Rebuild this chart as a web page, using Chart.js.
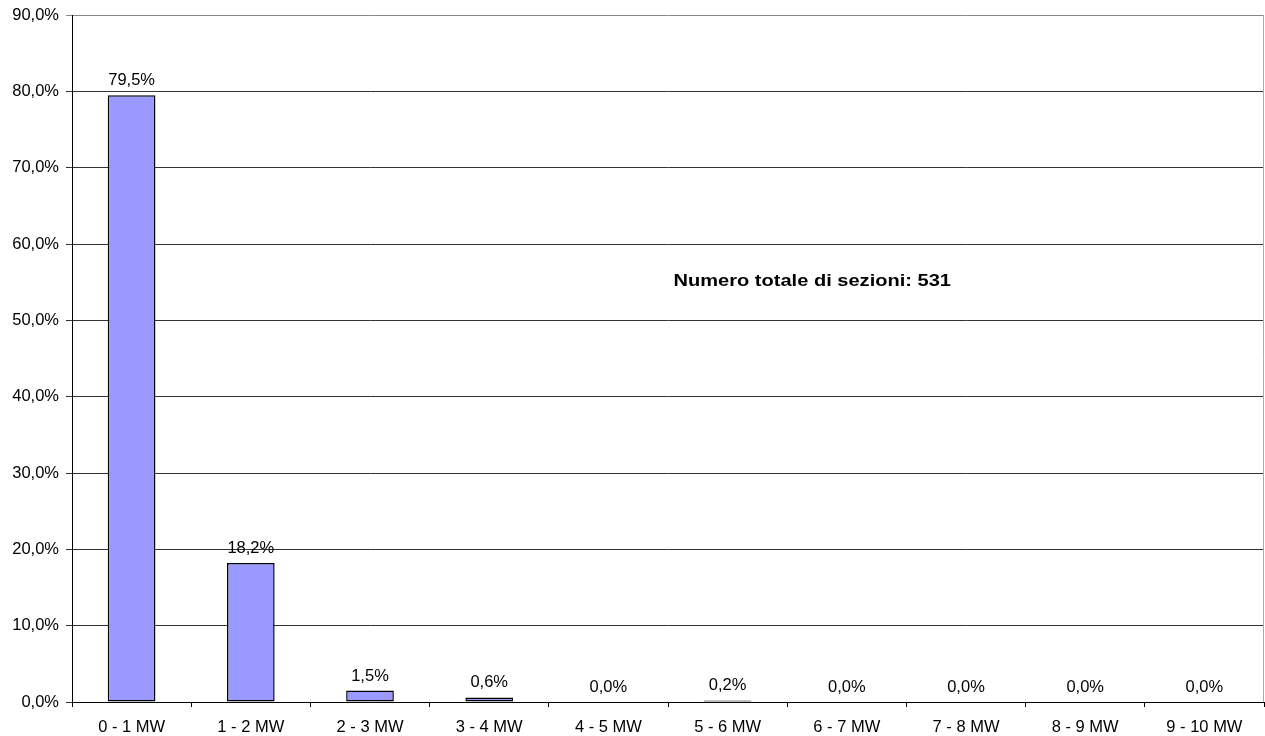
<!DOCTYPE html>
<html>
<head>
<meta charset="utf-8">
<style>
  html, body { margin: 0; padding: 0; background: #fff; }
  #wrap { width: 1265px; height: 736px; }
</style>
<script src="https://cdn.jsdelivr.net/npm/chart.js@4/dist/chart.umd.min.js"></script>
</head>
<body>
<div id="wrap"><canvas id="c" width="1265" height="736"></canvas></div>
<script>
// Distribution of sections by power class (share of total, %)
const categories = ['0 - 1 MW', '1 - 2 MW', '2 - 3 MW', '3 - 4 MW', '4 - 5 MW',
                    '5 - 6 MW', '6 - 7 MW', '7 - 8 MW', '8 - 9 MW', '9 - 10 MW'];
const shares = [79.5, 18.2, 1.5, 0.6, 0.0, 0.2, 0.0, 0.0, 0.0, 0.0];
const yTicks = [0, 10, 20, 30, 40, 50, 60, 70, 80, 90];
const noteText = 'Numero totale di sezioni: 531';

const FONT = 'Liberation Sans, Arial, sans-serif';
const fmt = v => v.toFixed(1).replace('.', ',') + '%';

// Value labels above each bar
const valueLabels = {
  id: 'valueLabels',
  afterDatasetsDraw(chart) {
    const ctx = chart.ctx;
    const meta = chart.getDatasetMeta(0);
    ctx.save();
    ctx.font = '16.5px ' + FONT;
    ctx.fillStyle = '#000';
    ctx.textAlign = 'center';
    ctx.textBaseline = 'alphabetic';
    meta.data.forEach((bar, i) => {
      ctx.fillText(fmt(shares[i]), bar.x, bar.y - 10);
    });
    ctx.restore();
  }
};

// Total count note inside the plot area, plus the right frame edge
const notePlugin = {
  id: 'notePlugin',
  afterDraw(chart) {
    const ctx = chart.ctx;
    const a = chart.chartArea;
    const x = chart.scales.x;
    const y = chart.scales.y;
    ctx.save();
    ctx.strokeStyle = '#aaa';
    ctx.lineWidth = 1;
    ctx.beginPath();
    ctx.moveTo(Math.round(a.right) - 0.5, a.top);
    ctx.lineTo(Math.round(a.right) - 0.5, a.bottom);
    ctx.stroke();
    const x5 = x.getPixelForValue(5), x6 = x.getPixelForValue(6);
    const cx = x5 + 0.71 * (x6 - x5);
    const cy = y.getPixelForValue(54.5);
    ctx.translate(cx, cy);
    ctx.scale(1.18, 1);
    ctx.font = 'bold 17px ' + FONT;
    ctx.fillStyle = '#000';
    ctx.textAlign = 'center';
    ctx.textBaseline = 'alphabetic';
    ctx.fillText(noteText, 0, 0);
    ctx.restore();
  }
};

new Chart(document.getElementById('c'), {
  type: 'bar',
  data: {
    labels: categories,
    datasets: [{
      data: shares,
      backgroundColor: '#9999ff',
      borderColor: '#000',
      borderWidth: 1.5,
      borderSkipped: false,
      categoryPercentage: 0.4,
      barPercentage: 1.0
    }]
  },
  options: {
    responsive: false,
    animation: false,
    devicePixelRatio: 1,
    layout: { padding: { top: 15, right: 1, left: 0, bottom: 0 } },
    plugins: {
      legend: { display: false },
      tooltip: { enabled: false }
    },
    scales: {
      x: {
        offset: true,
        grid: {
          display: true,
          offset: true,
          drawOnChartArea: false,
          drawTicks: true,
          tickLength: 5,
          color: '#000'
        },
        border: { display: true, color: '#000', width: 1 },
        ticks: {
          color: '#000',
          font: { family: FONT, size: 16.5 },
          padding: 11,
          maxRotation: 0,
          autoSkip: false
        },
        afterFit(scale) {
          scale.height = 34;
          scale.paddingLeft = 0;
          scale.paddingRight = 0;
        }
      },
      y: {
        min: 0,
        max: 90,
        afterBuildTicks(scale) { scale.ticks = yTicks.map(v => ({ value: v })); },
        grid: {
          color: ctx => (ctx.tick && ctx.tick.value === 90) ? '#888' : '#333',
          lineWidth: 1,
          drawTicks: true,
          tickLength: 6
        },
        border: { display: true, color: '#000', width: 1 },
        ticks: {
          color: '#000',
          font: { family: FONT, size: 16.5 },
          padding: 7,
          callback: v => fmt(v)
        },
        afterFit(scale) {
          scale.width = 72;
          scale.paddingTop = 0;
          scale.paddingBottom = 0;
        }
      }
    }
  },
  plugins: [valueLabels, notePlugin]
});
</script>
</body>
</html>
